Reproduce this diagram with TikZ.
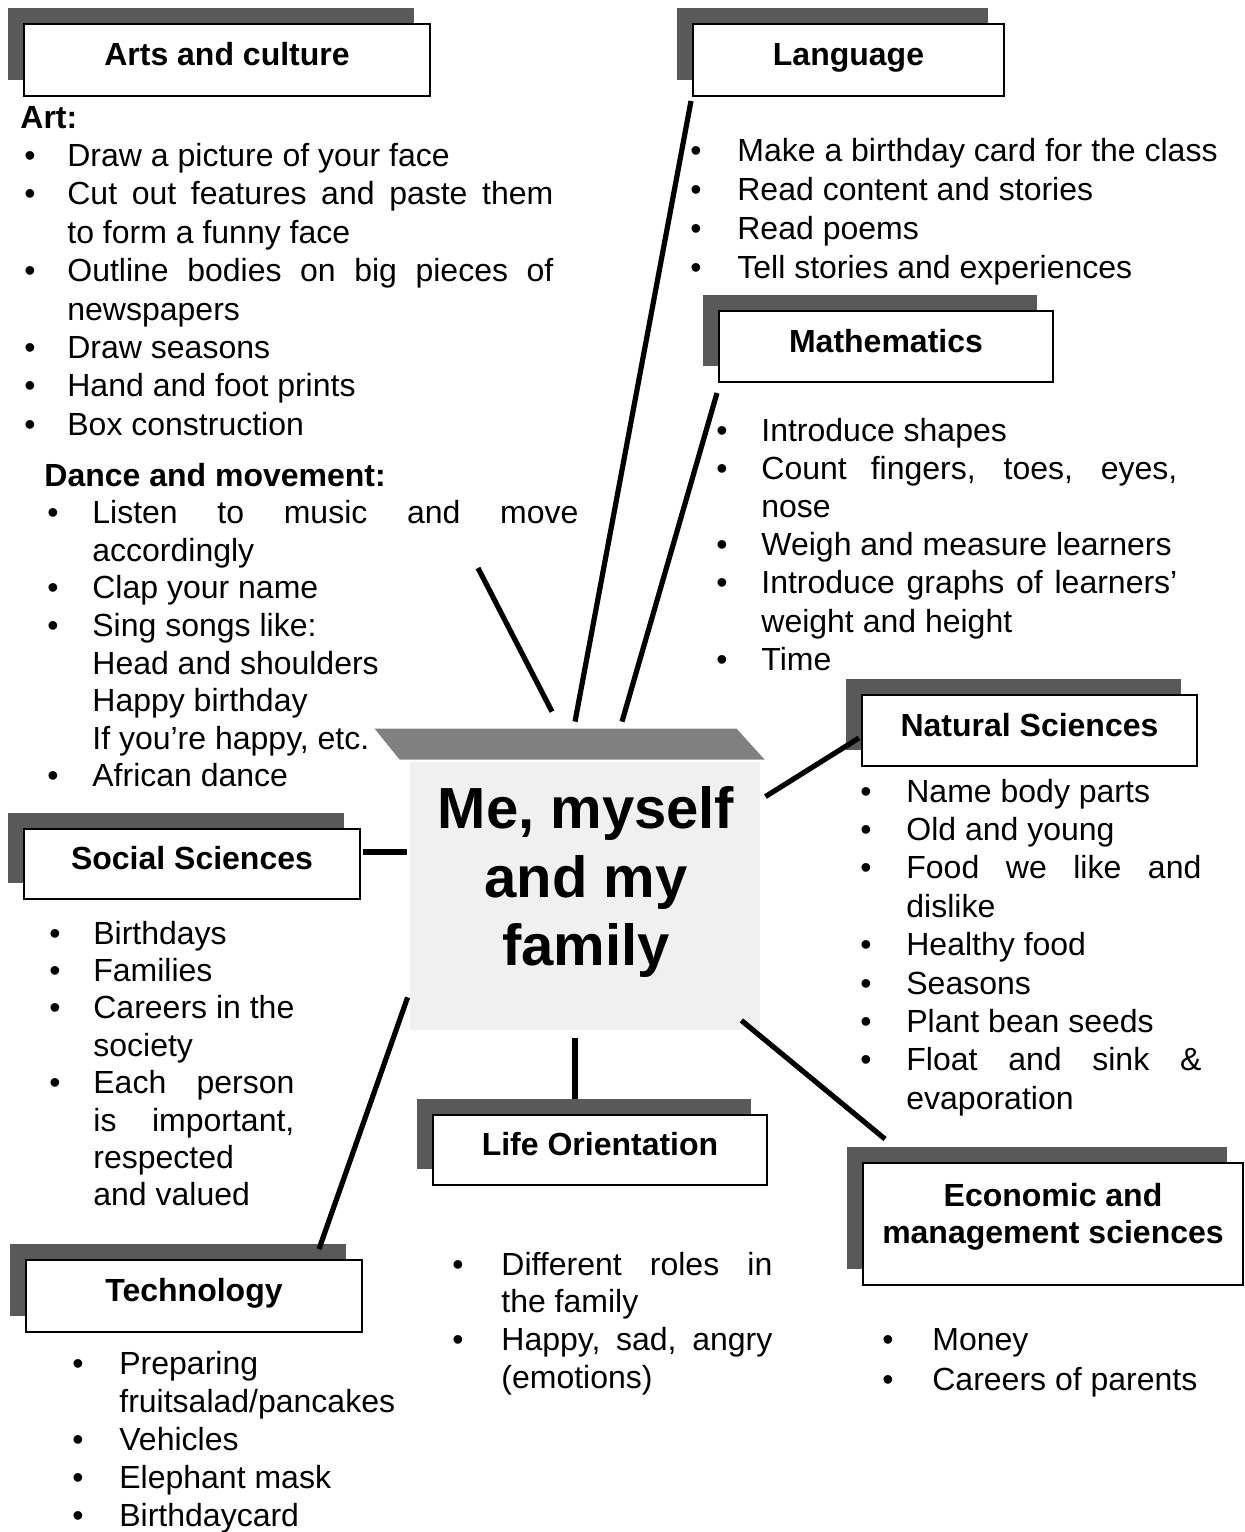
\documentclass[tikz,border=0pt]{standalone}
\usepackage{fontspec}
\setmainfont{Liberation Sans}
\usetikzlibrary{shadows, calc}

\newcommand{\bul}{\textbullet}
\newcommand{\jst}[2]{\makebox[#1][s]{#2}}

\begin{document}
\begin{tikzpicture}[x=0.5pt, y=-0.5pt,
    font=\fontsize{16}{19.2}\selectfont,
    hdr/.style={draw, line width=1pt, fill=white, inner sep=0pt,
      font=\fontsize{16}{19.2}\selectfont\bfseries, text height=12pt, text depth=6.5pt,
      general shadow={fill=black!65, shadow xshift=-8pt, shadow yshift=8pt}},
    lst/.style={anchor=base west, inner sep=0pt, font=\fontsize{16}{#1}\selectfont},
    lst/.default=19.2,
    link/.style={line width=2.6pt},
    hubbox/.style={fill=black!6, minimum width=175pt, minimum height=134pt, inner sep=0pt},
    band/.style={fill=black!50}]
  \useasboundingbox (0,0) rectangle (1244,1532);

  % centre
  \node[hubbox] (hub) at (585,896) {};
  \fill[band] ([shift={(-35,-33)}]hub.north west) -- ([shift={(327,-33)}]hub.north west)
    -- ([shift={(355,-2)}]hub.north west) -- ([shift={(-10,-2)}]hub.north west) -- cycle;
  \node[inner sep=0pt, align=center, font=\fontsize{29}{34.3}\selectfont\bfseries] (title) at (586,882)
    {Me, myself\\and my\\family};

  % subject boxes
  \node[hdr, minimum width=203pt, minimum height=36pt] (arts) at (227,60) {Arts and culture};
  \node[hdr, minimum width=155.5pt, minimum height=36pt] (lang) at (848.5,60) {Language};
  \node[hdr, minimum width=167pt, minimum height=35.5pt] (math) at (886,346.5) {Mathematics};
  \node[hdr, minimum width=167.5pt, minimum height=35.5pt] (nat) at (1029.5,730.5) {Natural Sciences};
  \node[hdr, minimum width=168pt, minimum height=35pt] (soc) at (192,864) {Social Sciences};
  \node[hdr, minimum width=167pt, minimum height=35pt] (life) at (600,1150) {Life Orientation};
  \node[hdr, minimum width=168pt, minimum height=36pt] (tech) at (194,1296) {Technology};
  \node[hdr, minimum width=190pt, minimum height=61pt, font=\fontsize{16}{18.5}\selectfont\bfseries,
    text depth=29.5pt] (econ) at (1053,1224)
    {\begin{tabular}[t]{@{}c@{}}Economic and\\management sciences\end{tabular}};

  % lists
  \node[lst] (artlist) at (24,128) {\begin{tabular}[t]{@{}p{21.5pt}@{}l@{}}
    \multicolumn{2}{@{}l@{}}{\hspace*{-2pt}\bfseries Art:}\\
    \bul & Draw a picture of your face\\
    \bul & \jst{243pt}{Cut out features and paste them}\\
         & to form a funny face\\
    \bul & \jst{243pt}{Outline bodies on big pieces of}\\
         & newspapers\\
    \bul & Draw seasons\\
    \bul & Hand and foot prints\\
    \bul & Box construction
  \end{tabular}};
  \node[lst=18.8] (dancelist) at (47,486) {\begin{tabular}[t]{@{}p{22.5pt}@{}l@{}}
    \multicolumn{2}{@{}l@{}}{\hspace*{-1.5pt}\bfseries Dance and movement:}\\
    \bul & \jst{243pt}{Listen to music and move}\\
         & accordingly\\
    \bul & Clap your name\\
    \bul & Sing songs like:\\
         & Head and shoulders\\
         & Happy birthday\\
         & If you're happy, etc.\\
    \bul & African dance
  \end{tabular}};
  \node[lst=19.5] (langlist) at (690,161) {\begin{tabular}[t]{@{}p{23.5pt}@{}l@{}}
    \bul & Make a birthday card for the class\\
    \bul & Read content and stories\\
    \bul & Read poems\\
    \bul & Tell stories and experiences
  \end{tabular}};
  \node[lst=19.1] (mathlist) at (716,441) {\begin{tabular}[t]{@{}p{22.5pt}@{}l@{}}
    \bul & Introduce shapes\\
    \bul & \jst{208pt}{Count fingers, toes, eyes,}\\
         & nose\\
    \bul & Weigh and measure learners\\
    \bul & \jst{208pt}{Introduce graphs of learners'}\\
         & weight and height\\
    \bul & Time
  \end{tabular}};
  \node[lst] (natlist) at (860,802) {\begin{tabular}[t]{@{}p{23pt}@{}l@{}}
    \bul & Name body parts\\
    \bul & Old and young\\
    \bul & \jst{147.5pt}{Food we like and}\\
         & dislike\\
    \bul & Healthy food\\
    \bul & Seasons\\
    \bul & Plant bean seeds\\
    \bul & \jst{147.5pt}{Float and sink \&}\\
         & evaporation
  \end{tabular}};
  \node[lst=18.7] (soclist) at (49,944) {\begin{tabular}[t]{@{}p{22pt}@{}l@{}}
    \bul & Birthdays\\
    \bul & Families\\
    \bul & Careers in the\\
         & society\\
    \bul & \jst{100.5pt}{Each person}\\
         & \jst{100.5pt}{is important,}\\
         & respected\\
         & and valued
  \end{tabular}};
  \node[lst=18.85] (lifelist) at (452,1275) {\begin{tabular}[t]{@{}p{24.5pt}@{}l@{}}
    \bul & \jst{135.5pt}{Different roles in}\\
         & the family\\
    \bul & \jst{135.5pt}{Happy, sad, angry}\\
         & (emotions)
  \end{tabular}};
  \node[lst=20] (econlist) at (882,1350) {\begin{tabular}[t]{@{}p{25pt}@{}l@{}}
    \bul & Money\\
    \bul & Careers of parents
  \end{tabular}};
  \node[lst=19] (techlist) at (72,1374) {\begin{tabular}[t]{@{}p{23.5pt}@{}l@{}}
    \bul & Preparing\\
         & fruitsalad/pancakes\\
    \bul & Vehicles\\
    \bul & Elephant mask\\
    \bul & Birthdaycard
  \end{tabular}};

  % connectors
  \coordinate (artstip) at (478,568);
  \draw[link] ([shift={(-1,4)}]lang.south west) -- ([shift={(-10,-40)}]hub.north);
  \draw[link] ([shift={(-1,10)}]math.south west) -- ([shift={(37,-40)}]hub.north);
  \draw[link] (artstip) -- ([shift={(-33,-50)}]hub.north);
  \draw[link] ([shift={(5,35)}]hub.north east) -- ([shift={(-2,7.5)}]nat.west);
  \draw[link] ([shift={(2,-12)}]soc.east) -- ([shift={(-3,-44)}]hub.west);
  \draw[link] ([shift={(-2,-33)}]hub.south west) -- ([shift={(-44,-10)}]tech.north east);
  \draw[link] ([shift={(-10,8)}]hub.south) -- ([shift={(-25,-15)}]life.north);
  \draw[link] ([shift={(-19,-10)}]hub.south east) -- ([shift={(23,-23)}]econ.north west);
\end{tikzpicture}
\end{document}
